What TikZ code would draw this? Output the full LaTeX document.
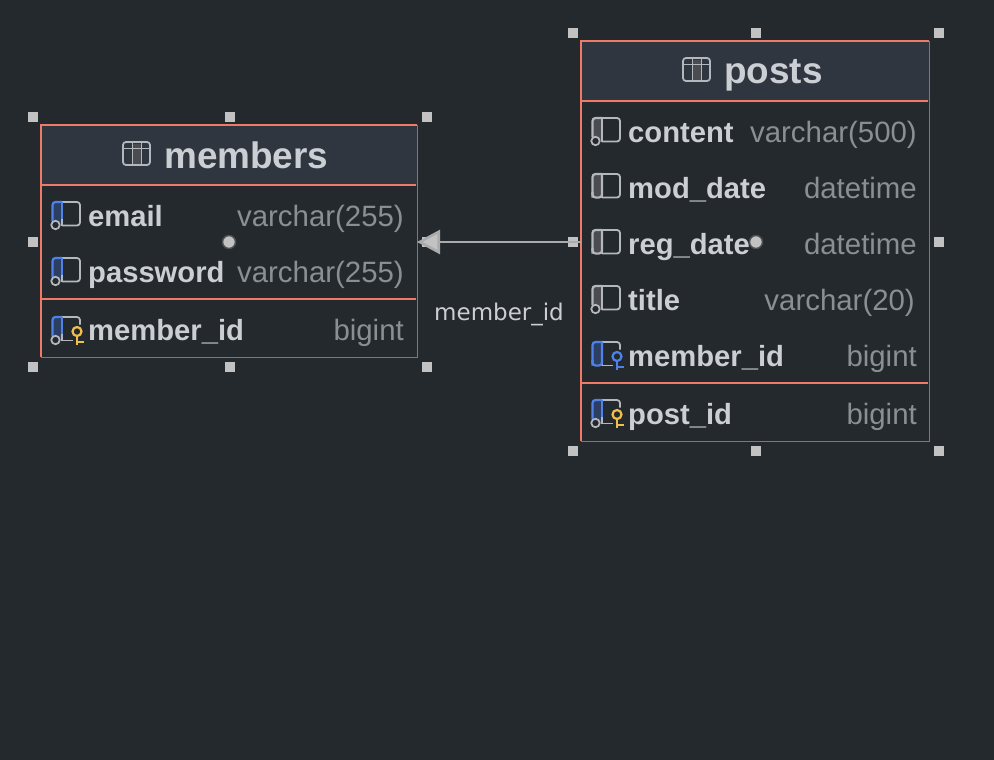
\documentclass[tikz,border=0pt]{standalone}
\usepackage{fontspec}
\setmainfont{Liberation Sans}
\newfontfamily\lblfont{DejaVu Sans}
\usetikzlibrary{arrows.meta}
\definecolor{bgc}{HTML}{24292D}
\definecolor{headc}{HTML}{2F363F}
\definecolor{salm}{HTML}{F07A68}
\definecolor{dimb}{HTML}{A06C62}
\definecolor{namec}{HTML}{CBCED3}
\definecolor{typec}{HTML}{8A8F95}
\definecolor{handc}{HTML}{C2C2C2}
\definecolor{iconc}{HTML}{B4B7BC}
\definecolor{fillc}{HTML}{4A4C52}
\definecolor{bluec}{HTML}{4F82E8}
\definecolor{bluef}{HTML}{2C3F63}
\definecolor{yelc}{HTML}{F0BE4A}
\tikzset{
  x=1pt,y=-1pt,
  handle/.style={fill=handc,minimum size=10.5pt,inner sep=0pt,outer sep=0pt},
  tablebox/.style={inner sep=0pt,outer sep=0pt},
  colname/.style={anchor=base west,inner sep=0pt,text=namec,font=\fontsize{29.2}{29}\selectfont\bfseries},
  coltype/.style={anchor=base east,inner sep=0pt,text=typec,font=\fontsize{29.4}{29}\selectfont},
  tabtitle/.style={anchor=base west,inner sep=0pt,text=namec,font=\fontsize{36.9}{37}\selectfont\bfseries},
  dot/.style={circle,fill=handc,draw=handc!25!bgc,line width=1.5pt,minimum size=13pt,inner sep=0pt},
  rel/.style={draw=handc!85!bgc,line width=2.6pt},
  ico/.style={draw=iconc,line width=1.8pt,line join=round},
  salline/.style={draw=salm,line width=1.7pt},
  dimline/.style={draw=dimb,line width=1pt},
}
\newcommand{\tabicon}[2]{%
  \begin{scope}[shift={(#1,#2)}]
    \fill[fillc,rounded corners=2pt] (9.5,2) rectangle (18.5,23);
    \draw[ico,rounded corners=3pt] (0,0) rectangle (27,23);
    \draw[ico,line width=1.4pt] (0,6.5) -- (27,6.5) (9.5,0) -- (9.5,23) (18.5,0) -- (18.5,23);
  \end{scope}}
% #1 x, #2 top y, #3 left colour, #4 left fill, #5 left stroke end (below 20: a circle follows), #6 key colour (or empty)
\newcommand{\colicon}[6]{%
  \begin{scope}[shift={(#1,#2)}]
    \fill[#4] (0,0) rectangle (9.5,22);
    \ifx\relax#6\relax
      \draw[ico,rounded corners=3pt] (9.5,0) -- (27.5,0) -- (27.5,23.5) -- (9.5,23.5);
    \else
      \draw[ico,rounded corners=3pt] (9.5,0) -- (27.5,0) -- (27.5,7.5);
      \draw[ico] (9.5,23.5) -- (20,23.5);
      \draw[#6,line width=2.2pt] (24.5,14.5) circle (4.5);
      \draw[#6,line width=2.4pt] (24.5,19) -- (24.5,27.5) (24.5,24.8) -- (31,24.8);
    \fi
    \draw[ico] (9.5,0) -- (9.5,23.5);
    \draw[#3,line width=2.2pt,rounded corners=3pt] (9.5,0) -- (0,0) -- (0,#5);
    \ifdim#5pt<20pt
      \draw[#3,line width=2.2pt] (9.5,0) -- (9.5,17);
      \draw[iconc,line width=1.8pt,fill=bgc] (3,23) circle (4.2);
    \else
      \draw[#3,line width=2.2pt,rounded corners=3pt] (0,18) -- (0,23.5) -- (9.5,23.5) -- (9.5,0);
    \fi
  \end{scope}}
\begin{document}
\begin{tikzpicture}
\fill[bgc] (0,0) rectangle (994,760);
\useasboundingbox (0,0) rectangle (994,760);

% members table
\node[tablebox,minimum width=376pt,minimum height=232pt] (members) at (229,241) {};
\fill[headc] (41,125) rectangle (417,185);
\draw[dimline] (41,357) -- (417,357) -- (417,125);
\draw[salline] (417,125) -- (41,125) -- (41,357);
\draw[salline] (41,185) -- (416,185);
\draw[salline] (41,299) -- (416,299);
\tabicon{123}{142}
\node[tabtitle] (mt) at (164,168) {members};
\colicon{52.5}{202}{bluec}{bluef}{19}{}
\node[colname] (m1) at (88,226) {email};
\node[coltype] (m1t) at (404,226) {varchar(255)};
\colicon{52.5}{258}{bluec}{bluef}{19}{}
\node[colname] (m2) at (88,282) {password};
\node[coltype] (m2t) at (404,282) {varchar(255)};
\colicon{52.5}{317}{bluec}{bluef}{19}{yelc}
\node[colname] (m3) at (88,340) {member\_id};
\node[coltype] (m3t) at (404,340) {bigint};

% posts table
\node[tablebox,minimum width=348pt,minimum height=400pt] (posts) at (755,241) {};
\fill[headc] (581,41) rectangle (929,101);
\draw[dimline] (581,441) -- (929,441) -- (929,41);
\draw[salline] (929,41) -- (581,41) -- (581,441);
\draw[salline] (581,101) -- (928,101);
\draw[salline] (581,383) -- (928,383);
\tabicon{683}{58}
\node[tabtitle] (pt) at (724,84) {posts};
\colicon{592.5}{118}{iconc}{fillc}{19}{}
\node[colname] (p1) at (628,142) {content};
\node[coltype] (p1t) at (917,142) {varchar(500)};
\colicon{592.5}{174}{iconc}{fillc}{23.5}{}
\node[colname] (p2) at (628,198) {mod\_date};
\node[coltype] (p2t) at (917,198) {datetime};
\colicon{592.5}{230}{iconc}{fillc}{23.5}{}
\node[colname] (p3) at (628,254) {reg\_date};
\node[coltype] (p3t) at (917,254) {datetime};
\colicon{592.5}{286}{iconc}{fillc}{19}{}
\node[colname] (p4) at (628,310) {title};
\node[coltype] (p4t) at (915,310) {varchar(20)};
\colicon{592.5}{342}{bluec}{bluef}{23.5}{bluec}
\node[colname] (p5) at (628,366) {member\_id};
\node[coltype] (p5t) at (917,366) {bigint};
\colicon{592.5}{400}{bluec}{bluef}{19}{yelc}
\node[colname] (p6) at (628,424) {post\_id};
\node[coltype] (p6t) at (917,424) {bigint};

% relation
\node[handle] (he) at (427,242) {};
\node[handle] (hl) at (573,242) {};
\draw[rel,-{Triangle[length=23pt,width=24pt,fill=handc]}] (posts.west |- hl) -- (members.east |- he);
% handles
\foreach \n/\x/\y in {a/33/117,b/230/117,c/427/117,d/33/242,f/33/367,g/230/367,h/427/367,
  i/573/33,j/756/33,k/939/33,m/939/242,n/573/451,o/756/451,p/939/451}{
  \node[handle] (h\n) at (\x,\y) {};
}
\node[dot] (dm) at (229,242) {};
\node[dot] (dp) at (756,242) {};

\node[anchor=base west,inner sep=0pt,text=namec,font=\lblfont\fontsize{23}{23}\selectfont] (lbl) at (434,320) {member\_id};
\end{tikzpicture}
\end{document}
